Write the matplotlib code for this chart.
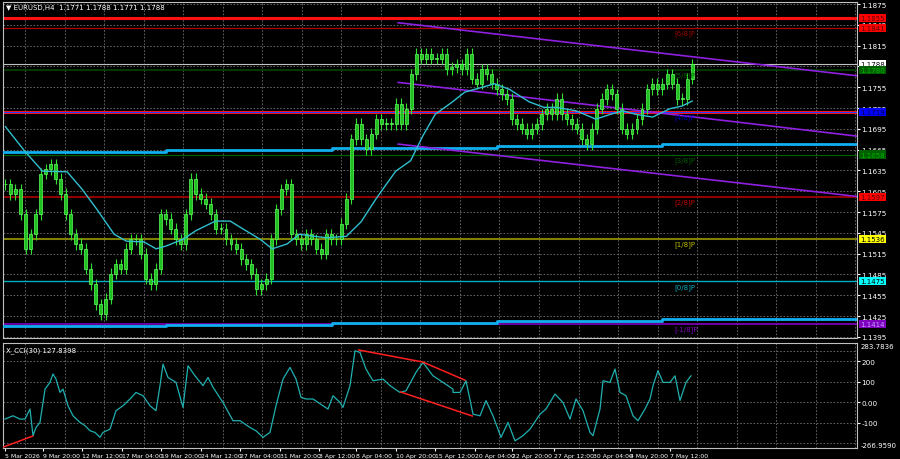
import numpy as np
import matplotlib
matplotlib.use("Agg")
import matplotlib.pyplot as plt
import matplotlib.transforms as mtransforms

# ---------------------------------------------------------------------------
# Data
# ---------------------------------------------------------------------------
closes = [
    1.1615, 1.1601, 1.1608, 1.1572, 1.1522, 1.1543, 1.1572, 1.1630, 1.1637, 1.1644,
    1.1623, 1.1601, 1.1572, 1.1543, 1.1529, 1.1522, 1.1493, 1.1471, 1.1442, 1.1428,
    1.1450, 1.1486, 1.1500, 1.1493, 1.1522, 1.1536, 1.1536, 1.1515, 1.1479, 1.1471,
    1.1493, 1.1572, 1.1565, 1.1551, 1.1536, 1.1529, 1.1572, 1.1623, 1.1601, 1.1594,
    1.1587, 1.1572, 1.1551, 1.1551, 1.1536, 1.1529, 1.1522, 1.1507, 1.1500, 1.1486,
    1.1464, 1.1471, 1.1479, 1.1536, 1.1579, 1.1608, 1.1615, 1.1543, 1.1536, 1.1529,
    1.1543, 1.1536, 1.1522, 1.1515, 1.1543, 1.1536, 1.1536, 1.1558, 1.1594, 1.1680,
    1.1702, 1.1680, 1.1666, 1.1688, 1.1709, 1.1702, 1.1702, 1.1702, 1.1731, 1.1702,
    1.1724, 1.1774, 1.1803, 1.1796, 1.1803, 1.1796, 1.1796, 1.1803, 1.1781, 1.1784,
    1.1788, 1.1781, 1.1803, 1.1767, 1.1760, 1.1781, 1.1774, 1.1760, 1.1752, 1.1745,
    1.1738, 1.1709, 1.1702, 1.1695, 1.1688, 1.1695, 1.1702, 1.1716, 1.1724, 1.1716,
    1.1738, 1.1716, 1.1709, 1.1702, 1.1695, 1.1680, 1.1673, 1.1695, 1.1724, 1.1738,
    1.1752, 1.1745, 1.1724, 1.1695, 1.1688, 1.1695, 1.1709, 1.1724, 1.1752, 1.1760,
    1.1752, 1.1760, 1.1774, 1.1760, 1.1738, 1.1738, 1.1767, 1.1788,
]
ma_bars = [1, 5, 9, 16, 26, 32, 38, 45, 50, 57, 62, 66, 73, 78, 86, 92, 97, 104, 109,
           115, 120, 126, 131, 139, 145, 151, 159, 165, 170, 175, 182, 187, 194, 199,
           205, 213, 219, 224, 232, 240, 246, 251, 256, 263, 270, 275, 279]
ma_vals = [1.1698, 1.1680, 1.1662, 1.1634, 1.1633, 1.1608, 1.1579, 1.1543, 1.1533,
           1.1532, 1.1522, 1.1526, 1.1536, 1.1548, 1.1562, 1.1562, 1.1551, 1.1536,
           1.1522, 1.1529, 1.1543, 1.1540, 1.1538, 1.1540, 1.1561, 1.1594, 1.1634,
           1.1649, 1.1685, 1.1716, 1.1734, 1.1748, 1.1755, 1.1760, 1.1752, 1.1734,
           1.1726, 1.1726, 1.1721, 1.1709, 1.1716, 1.1721, 1.1716, 1.1712, 1.1724,
           1.1728, 1.1735]

# CCI: time position in screen pixels of the reference, converted to bars below
cci_px = [
    2, 10, 17, 22, 27, 30, 33, 37, 42, 47, 50, 53, 57, 60, 65, 70, 77, 82, 87, 92,
    97, 100, 107, 113, 120, 127, 133, 140, 147, 153, 157, 160, 165, 173, 180, 185, 192,
    200, 205, 210, 220, 230, 237, 247, 253, 260, 267, 273, 280, 287, 293, 298, 303, 310,
    320, 325, 330, 337, 340, 347, 352, 357, 363, 370, 380, 387, 397, 403, 413, 420, 430,
    440, 450,
    450, 457, 463, 470, 477, 483, 490, 498, 505, 512, 520, 527, 537, 543, 552, 560, 567,
    573, 580, 587, 590, 597, 600, 607, 612, 617, 623, 630, 635, 642, 647, 650, 655, 660,
    667, 672, 677, 683, 688,
]
cci_vals = [
    -83, -67, -83, -83, -34, -164, -124, -99, 63, 96, 137, 112, 47, 63, -18, -67, -99,
    -115, -140, -148, -172, -148, -132, -42, -18, 15, 47, 31, -18, -42, 80, 185, 120,
    96, -26, 177, 128, 80, 120, 72, -2, -91, -91, -124, -140, -172, -148, -18, 112, 169,
    112, 23, 15, 15, -18, -34, 31, -2, -26, 80, 250, 242, 161, 104, 112, 80, 47, 55, 145,
    193, 128, 96, 63,
    47, 47, 104, -59, -67, 7, -67, -172, -99, -189, -164, -132, -59, -34, 39, -2, -83,
    15, -42, -148, -164, -34, 104, 96, 161, 47, 31, -67, -91, -34, 15, 80, 153, 96, 96,
    128, 7, 96, 128,
]

levels = [1.1855, 1.1841, 1.1788, 1.1780, 1.1719, 1.1658, 1.1597, 1.1536, 1.1475, 1.1414]
level_colors = ["#ff1010", "#b00000", "#c0c0c0", "#004000", "#ff1010", "#006000",
                "#a00000", "#808000", "#00b0c0", "#8000c0"]
level_widths = [2.2, 0.9, 0.8, 1.2, 2.2, 0.9, 1.3, 1.5, 1.0, 1.2]
level_box_fc = ["#ff0000", "#ff0000", "#ffffff", "#006000", "#0000ff", "#006000",
                "#ff0000", "#ffff00", "#00ffff", "#8000c0"]
level_box_tc = ["#600000", "#600000", "#000000", "#00b000", "#000040", "#00b000",
                "#600000", "#000000", "#000000", "#c0a0ff"]
murrey_names = ["[6/8]P", "[5/8]P", "[4/8]P", "[3/8]P", "[2/8]P", "[1/8]P", "[0/8]P", "[-1/8]P"]
murrey_prices = [1.1841, 1.1780, 1.1719, 1.1658, 1.1597, 1.1536, 1.1475, 1.1414]
murrey_colors = ["#a00000", "#006000", "#0000c0", "#006000", "#c00000", "#c0c000", "#00b0c0", "#8000c0"]

channel_x = [160, 347]
channel_top = [1.1848, 1.1771]
channel_mid = [1.1762, 1.1684]
channel_bot = [1.1673, 1.1597]
trend_hi_x = [0, 66, 133, 200, 267, 347]
trend_hi = [1.1662, 1.1664, 1.1667, 1.1670, 1.1673, 1.1676]
trend_lo = [1.1410, 1.1412, 1.1415, 1.1418, 1.1421, 1.1425]

cci_div1_x = [0, 12]
cci_div1 = [-220, -166]
cci_div2_x = [144, 170, 187]
cci_div2 = [254, 195, 107]
cci_div3_x = [161, 190]
cci_div3 = [49, -68]

date_labels = ["5 Mar 2026", "9 Mar 20:00", "12 Mar 12:00", "17 Mar 04:00", "19 Mar 20:00",
               "24 Mar 12:00", "27 Mar 04:00", "31 Mar 20:00", "3 Apr 12:00", "8 Apr 04:00",
               "10 Apr 20:00", "15 Apr 12:00", "20 Apr 04:00", "22 Apr 20:00", "27 Apr 12:00",
               "30 Apr 04:00", "4 May 20:00", "7 May 12:00"]
date_bars = [1, 16, 32, 48, 64, 80, 96, 112, 128, 143, 159, 175, 191, 206, 223, 239, 254, 270]

price_ticks = [1.1875, 1.1845, 1.1815, 1.1785, 1.1755, 1.1725, 1.1695, 1.1665, 1.1635,
               1.1605, 1.1575, 1.1545, 1.1515, 1.1485, 1.1455, 1.1425, 1.1395]

# ---------------------------------------------------------------------------
W, H = 900, 460
BAR_PX = 2.47          # screen pixels per H4 bar in the reference
fig = plt.figure(figsize=(9, 4.6), dpi=100, facecolor="black")
ax = fig.add_axes([3 / W, 1 - 339 / H, 854 / W, 336 / H], facecolor="black")
ax2 = fig.add_axes([3 / W, 1 - 449 / H, 854 / W, 105 / H], facecolor="black")

XMAX = 854 / BAR_PX
for a in (ax, ax2):
    a.set_xlim(0, XMAX)
    for s in a.spines.values():
        s.set_color("#c0c0c0")
        s.set_linewidth(0.8)
    a.tick_params(colors="white", labelsize=5.2, length=2, pad=1)
    a.yaxis.tick_right()
    for gx in np.arange(9, XMAX, 16):
        a.axvline(gx, color="#707070", lw=0.6, ls=(0, (2, 2)), zorder=0)

ax.set_ylim(1.13934, 1.18779)
ax.set_yticks(price_ticks)
ax.set_yticklabels([f"{p:.4f}" for p in price_ticks])
ax.set_xticks([])
for p in price_ticks:
    ax.axhline(p, color="#707070", lw=0.6, ls=(0, (2, 2)), zorder=0)

# horizontal levels
for p, c, w in zip(levels, level_colors, level_widths):
    ax.axhline(p, color=c, lw=w, zorder=2)
ax.axhline(1.1719, color="#2040ff", lw=0.8, zorder=2)

# trend lines (thick blue)
ax.plot(trend_hi_x, trend_hi, color="#10b0f0", lw=2.0, zorder=3, drawstyle="steps-post")
ax.plot(trend_hi_x, trend_lo, color="#10b0f0", lw=2.0, zorder=3, drawstyle="steps-post")

# channel
for ys in (channel_top, channel_mid, channel_bot):
    ax.plot(channel_x, ys, color="#9020e0", lw=1.2, zorder=3)

# candles
n = len(closes)
xs = np.linspace(1, 279, n)
opens = [closes[0]] + closes[:-1]
for x, o, c in zip(xs, opens, closes):
    lo, hi = min(o, c), max(o, c)
    ax.vlines(x, lo - 0.0008, hi + 0.0008, color="#30e030", lw=0.8, zorder=4)
    ax.bar(x, max(hi - lo, 0.00008), bottom=lo, width=1.2,
           color="#20c020", edgecolor="#60ff60", lw=0.5, zorder=5)

ax.plot(ma_bars, ma_vals, color="#30c0d0", lw=1.0, zorder=6)

for name, p, c in zip(murrey_names, murrey_prices, murrey_colors):
    ax.text(272, p - 0.0002, name, color=c, fontsize=5, va="top", zorder=7)

ax.text(0.004, 0.995, "\u25bc EURUSD,H4  1.1771 1.1788 1.1771 1.1788", color="white",
        fontsize=5, va="top", transform=ax.transAxes)

trans = mtransforms.blended_transform_factory(ax.transAxes, ax.transData)
for p, fc, tc in zip(levels, level_box_fc, level_box_tc):
    ax.text(1.004, p, f"{p:.4f}", transform=trans, fontsize=5.0, color=tc, va="center",
            ha="left", bbox=dict(boxstyle="square,pad=0.15", fc=fc, ec="none"),
            clip_on=False, zorder=8)

# CCI panel
ax2.set_ylim(-224, 288)
ax2.set_yticks([200, 100, 0, -100])
ax2.set_yticklabels(["200", "100", "0.00", "-100"])
for v in (250, 200, 100, 0, -100, -200):
    ax2.axhline(v, color="#707070", lw=0.6, ls=(0, (2, 2)), zorder=0)
tr2 = mtransforms.blended_transform_factory(ax2.transAxes, ax2.transData)
ax2.text(1.004, 275, "283.7836", transform=tr2, color="white", fontsize=5.0, va="center")
ax2.text(1.004, -210, "-266.9590", transform=tr2, color="white", fontsize=5.0, va="center")

cx = np.array(cci_px) / BAR_PX
ax2.plot(cx, cci_vals, color="#20b0b0", lw=0.9, zorder=3)
for xx, yy in ((cci_div1_x, cci_div1), (cci_div2_x, cci_div2), (cci_div3_x, cci_div3)):
    ax2.plot(xx, yy, color="#ff2020", lw=1.1, zorder=4)
ax2.text(0.004, 0.97, "X_CCI(30) 127.8398", color="white", fontsize=5, va="top",
         transform=ax2.transAxes)

ax2.set_xticks(date_bars)
ax2.set_xticklabels(date_labels, ha="left")
ax2.tick_params(axis="x", labelsize=4.4, pad=1.5)

fig.savefig("out.png", dpi=100, facecolor="black")
